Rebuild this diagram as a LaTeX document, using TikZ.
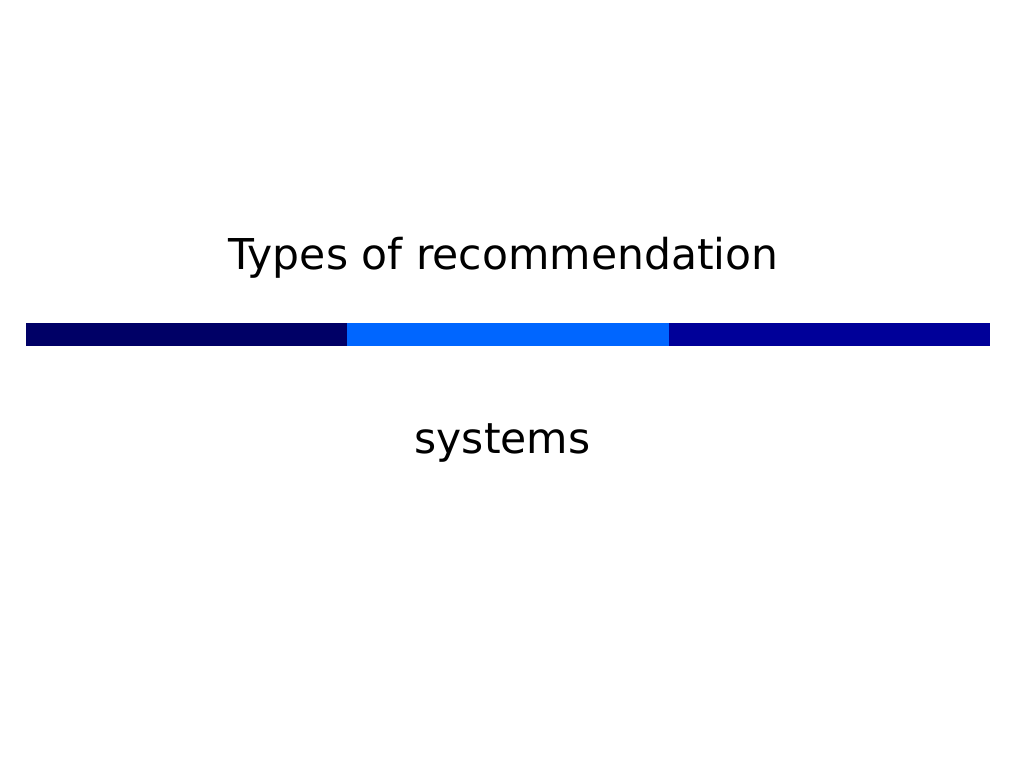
\documentclass[tikz,border=0pt]{standalone}
\usepackage{fontspec}
\setmainfont{DejaVu Sans}
\definecolor{barnavy}{HTML}{000066}
\definecolor{barbright}{HTML}{0066FF}
\definecolor{bardark}{HTML}{000099}
\begin{document}
\begin{tikzpicture}[x=1pt,y=1pt,
  titletext/.style={inner sep=0pt,anchor=base,font=\fontsize{42.5}{50}\selectfont}]
\useasboundingbox[fill=white] (0,0) rectangle (1024,768);
\fill[barnavy] (26,422) rectangle (347,445);
\fill[barbright] (347,422) rectangle (669,445);
\fill[bardark] (669,422) rectangle (990,445);
\node[titletext] (title) at (503.5,498) {Types of recommendation};
\node[titletext] (sub) at (502.5,314) {systems};
\end{tikzpicture}
\end{document}
